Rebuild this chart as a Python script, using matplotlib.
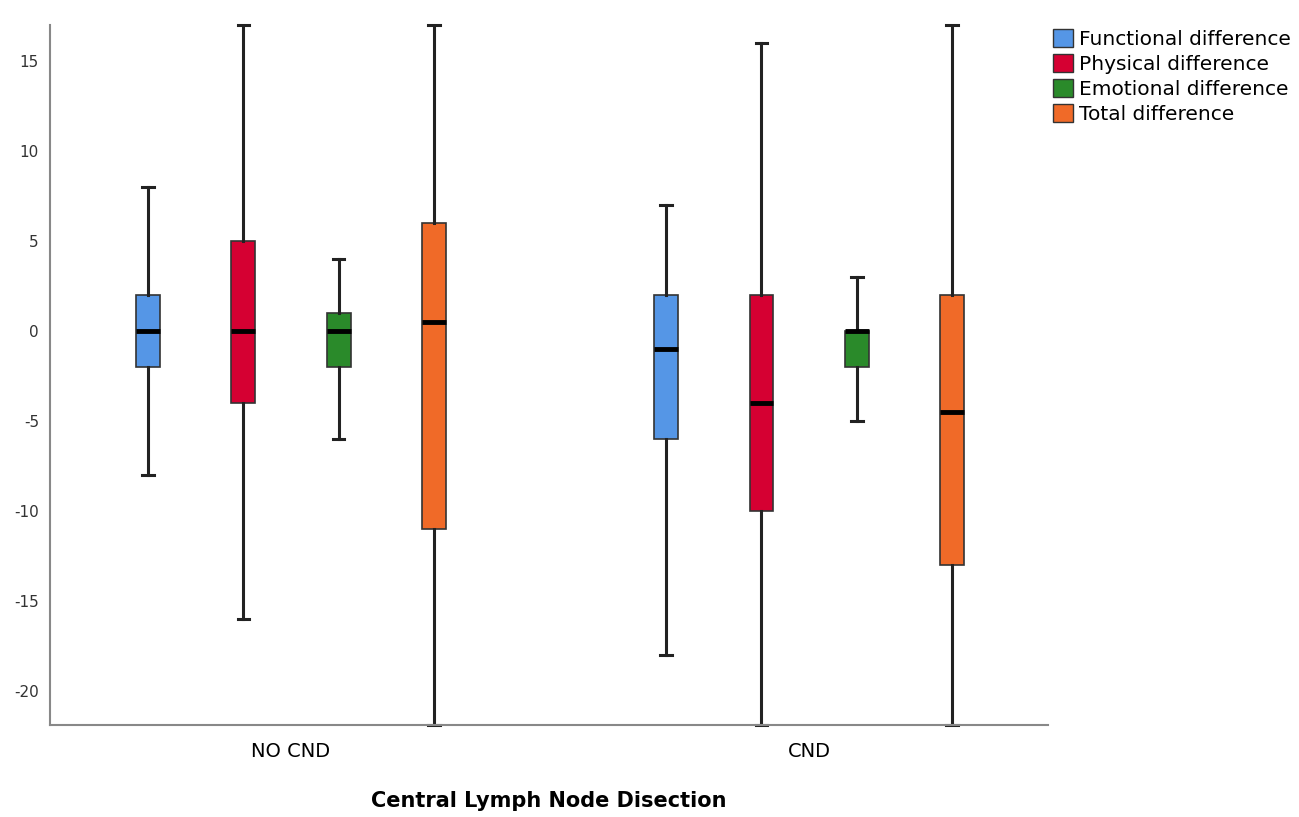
import matplotlib
matplotlib.use("Agg")
import matplotlib.pyplot as plt
from matplotlib.patches import Patch

groups = ["NO CND", "CND"]
series = ["Functional difference", "Physical difference",
          "Emotional difference", "Total difference"]
colors = ["#5596E6", "#D50032", "#2A8A2A", "#F06A28"]

# five-number summaries per group, in series order: (whislo, q1, med, q3, whishi)
no_cnd = [
    (-8, -2, 0, 2, 8),
    (-16, -4, 0, 5, 17),
    (-6, -2, 0, 1, 4),
    (-21.9, -11, 0.5, 6, 17),
]
cnd = [
    (-18, -6, -1, 2, 7),
    (-21.9, -10, -4, 2, 16),
    (-5, -2, 0, 0, 3),
    (-21.9, -13, -4.5, 2, 17),
]
yticks = [-20, -15, -10, -5, 0, 5, 10, 15]

fig = plt.figure(figsize=(12.99, 8.17), dpi=100)
ax = fig.add_axes([0.0385, 0.1126, 0.7683, 0.8568])

offsets = [-0.276, -0.092, 0.092, 0.276]
for gi, data in enumerate([no_cnd, cnd]):
    for si, (lo, q1, med, q3, hi) in enumerate(data):
        stats = [dict(whislo=lo, q1=q1, med=med, q3=q3, whishi=hi, fliers=[])]
        art = ax.bxp(stats, positions=[gi + offsets[si]], widths=0.046,
                     patch_artist=True, showfliers=False,
                     boxprops=dict(facecolor=colors[si], edgecolor="#333333", linewidth=1.2),
                     medianprops=dict(color="black", linewidth=3.5),
                     whiskerprops=dict(color="#222222", linewidth=2.2),
                     capprops=dict(color="#222222", linewidth=2.2),
                     capwidths=0.022)
        for cap in art["caps"]:
            cap.set_clip_on(False)

ax.set_xlim(-0.465, 1.461)
ax.set_ylim(-21.9, 17)
ax.set_xticks([0, 1])
ax.set_xticklabels(groups, fontsize=14)
ax.set_yticks(yticks)
ax.set_yticklabels([str(t) for t in yticks], fontsize=11, color="#333333")
ax.tick_params(length=0)
ax.tick_params(axis="x", pad=12)
ax.tick_params(axis="y", pad=8)
for s in ["top", "right"]:
    ax.spines[s].set_visible(False)
for s in ["left", "bottom"]:
    ax.spines[s].set_color("#888888")
    ax.spines[s].set_linewidth(1.5)
ax.set_xlabel("Central Lymph Node Disection", fontsize=15, fontweight="bold", labelpad=22)

handles = [Patch(facecolor=c, edgecolor="#333333", label=l) for c, l in zip(colors, series)]
fig.legend(handles=handles, loc="upper left", bbox_to_anchor=(0.8045, 0.974),
           frameon=False, fontsize=14.5, handlelength=1.0, handleheight=1.0,
           handletextpad=0.3, labelspacing=0.25, borderaxespad=0)

fig.savefig("out.png", dpi=100)
